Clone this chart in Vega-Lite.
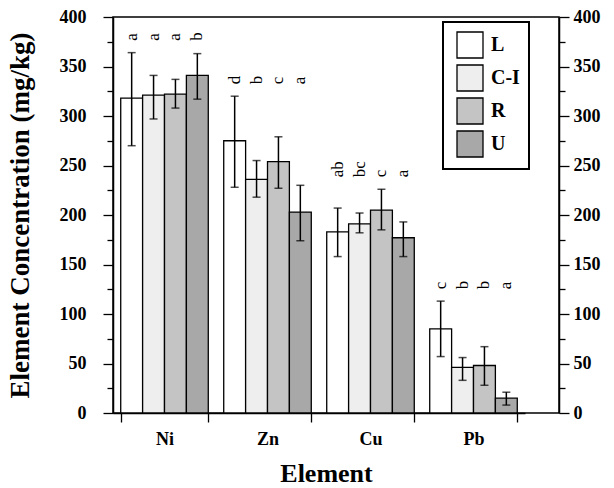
{
  "$schema": "https://vega.github.io/schema/vega-lite/v6.json",
  "width": 446,
  "height": 396,
  "autosize": "none",
  "padding": {"left": 113, "top": 17, "right": 55, "bottom": 75},
  "background": "white",
  "config": {
    "view": {"stroke": "black", "strokeWidth": 1.5},
    "font": "Liberation Serif",
    "legend": {"strokeWidth": 2}
  },
  "data": {
    "values": [
      {"element": "Ni", "site": "L", "mean": 318, "lower": 270, "upper": 364, "letter": "a"},
      {"element": "Ni", "site": "C-I", "mean": 321, "lower": 297, "upper": 341, "letter": "a"},
      {"element": "Ni", "site": "R", "mean": 322, "lower": 308, "upper": 337, "letter": "a"},
      {"element": "Ni", "site": "U", "mean": 341, "lower": 317, "upper": 363, "letter": "b"},
      {"element": "Zn", "site": "L", "mean": 275, "lower": 228, "upper": 320, "letter": "d"},
      {"element": "Zn", "site": "C-I", "mean": 236, "lower": 218, "upper": 255, "letter": "b"},
      {"element": "Zn", "site": "R", "mean": 254, "lower": 227, "upper": 279, "letter": "c"},
      {"element": "Zn", "site": "U", "mean": 203, "lower": 174, "upper": 230, "letter": "a"},
      {"element": "Cu", "site": "L", "mean": 183, "lower": 158, "upper": 207, "letter": "ab"},
      {"element": "Cu", "site": "C-I", "mean": 191, "lower": 182, "upper": 202, "letter": "bc"},
      {"element": "Cu", "site": "R", "mean": 205, "lower": 185, "upper": 226, "letter": "c"},
      {"element": "Cu", "site": "U", "mean": 177, "lower": 158, "upper": 193, "letter": "a"},
      {"element": "Pb", "site": "L", "mean": 85, "lower": 57, "upper": 113, "letter": "c"},
      {"element": "Pb", "site": "C-I", "mean": 46, "lower": 33, "upper": 56, "letter": "b"},
      {"element": "Pb", "site": "R", "mean": 48, "lower": 28, "upper": 67, "letter": "b"},
      {"element": "Pb", "site": "U", "mean": 15, "lower": 8, "upper": 21, "letter": "a"}
    ]
  },
  "layer": [
    {
      "mark": {"type": "bar", "stroke": "black", "strokeWidth": 1.3},
      "encoding": {
        "x": {
          "field": "element", "type": "nominal", "sort": ["Ni", "Zn", "Cu", "Pb"],
          "scale": {"range": [0, 412], "paddingInner": 0.15, "paddingOuter": 0.075},
          "axis": {
            "title": "Element", "labelAngle": 0, "tickBand": "extent", "tickSize": 9,
            "tickColor": "black", "tickWidth": 1.3, "domainColor": "black", "domainWidth": 1.5,
            "labelFont": "Liberation Serif", "labelFontSize": 18, "labelFontWeight": "bold",
            "labelColor": "black", "labelPadding": 8,
            "titleFont": "Liberation Serif", "titleFontSize": 26, "titleFontWeight": "bold",
            "titleColor": "black", "titlePadding": 12, "titleX": 213
          }
        },
        "xOffset": {"field": "site", "type": "nominal", "sort": ["L", "C-I", "R", "U"], "scale": {"paddingInner": 0, "paddingOuter": 0}},
        "y": {
          "field": "mean", "type": "quantitative", "scale": {"domain": [0, 400]},
          "axis": {
            "title": "Element Concentration (mg/kg)",
            "values": [0, 25, 50, 75, 100, 125, 150, 175, 200, 225, 250, 275, 300, 325, 350, 375, 400],
            "labelExpr": "datum.value % 50 === 0 ? datum.label : ''",
            "tickSize": {"condition": {"test": "datum.value % 50 === 0", "value": 10}, "value": 6},
            "tickColor": "black", "tickWidth": 1.3, "domainColor": "black", "domainWidth": 1.5,
            "labelFont": "Liberation Serif", "labelFontWeight": "bold", "labelFontSize": 18,
            "labelColor": "black", "labelPadding": 17, "grid": false,
            "titleFont": "Liberation Serif", "titleFontWeight": "bold", "titleFontSize": 27,
            "titleColor": "black", "titlePadding": 25
          }
        },
        "fill": {
          "field": "site", "type": "nominal",
          "scale": {"domain": ["L", "C-I", "R", "U"], "range": ["white", "#eeeeee", "#c4c4c4", "#a8a8a8"]},
          "legend": {
            "orient": "none", "legendX": 330, "legendY": 5, "title": null,
            "strokeColor": "black", "fillColor": "white", "padding": 9,
            "symbolType": "square", "symbolSize": 676, "symbolStrokeColor": "black",
            "symbolStrokeWidth": 1.3, "symbolOffset": 4, "labelOffset": 7,
            "labelFontSize": 20, "labelFont": "Liberation Serif", "labelFontWeight": "bold",
            "labelColor": "black", "rowPadding": 1
          }
        }
      }
    },
    {
      "mark": {"type": "rule", "strokeWidth": 1.5, "color": "black"},
      "encoding": {
        "x": {"field": "element", "type": "nominal", "sort": ["Ni", "Zn", "Cu", "Pb"]},
        "xOffset": {"field": "site", "type": "nominal", "sort": ["L", "C-I", "R", "U"]},
        "y": {
          "field": "lower", "type": "quantitative", "scale": {"domain": [0, 400]},
          "axis": {
            "orient": "right", "title": null,
            "values": [0, 25, 50, 75, 100, 125, 150, 175, 200, 225, 250, 275, 300, 325, 350, 375, 400],
            "labelExpr": "datum.value % 50 === 0 ? datum.label : ''",
            "tickSize": {"condition": {"test": "datum.value % 50 === 0", "value": 10}, "value": 6},
            "tickColor": "black", "tickWidth": 1.3, "domainColor": "black", "domainWidth": 1.5,
            "labelFont": "Liberation Serif", "labelFontWeight": "bold", "labelFontSize": 18,
            "labelColor": "black", "labelPadding": 4, "grid": false
          }
        },
        "y2": {"field": "upper"}
      }
    },
    {
      "mark": {"type": "tick", "orient": "horizontal", "size": 8, "thickness": 1.5, "color": "black"},
      "encoding": {
        "x": {"field": "element", "type": "nominal", "sort": ["Ni", "Zn", "Cu", "Pb"]},
        "xOffset": {"field": "site", "type": "nominal", "sort": ["L", "C-I", "R", "U"]},
        "y": {"field": "lower", "type": "quantitative", "scale": {"domain": [0, 400]}, "axis": null}
      }
    },
    {
      "mark": {"type": "tick", "orient": "horizontal", "size": 8, "thickness": 1.5, "color": "black"},
      "encoding": {
        "x": {"field": "element", "type": "nominal", "sort": ["Ni", "Zn", "Cu", "Pb"]},
        "xOffset": {"field": "site", "type": "nominal", "sort": ["L", "C-I", "R", "U"]},
        "y": {"field": "upper", "type": "quantitative", "scale": {"domain": [0, 400]}, "axis": null}
      }
    },
    {
      "transform": [{"joinaggregate": [{"op": "max", "field": "upper", "as": "top"}], "groupby": ["element"]}],
      "mark": {"type": "text", "angle": 270, "align": "left", "baseline": "middle", "dx": 12, "fontSize": 17, "font": "Liberation Serif", "color": "black"},
      "encoding": {
        "x": {"field": "element", "type": "nominal", "sort": ["Ni", "Zn", "Cu", "Pb"]},
        "xOffset": {"field": "site", "type": "nominal", "sort": ["L", "C-I", "R", "U"]},
        "y": {"field": "top", "type": "quantitative", "scale": {"domain": [0, 400]}, "axis": null},
        "text": {"field": "letter"}
      }
    }
  ],
  "resolve": {"scale": {"y": "independent"}}
}
